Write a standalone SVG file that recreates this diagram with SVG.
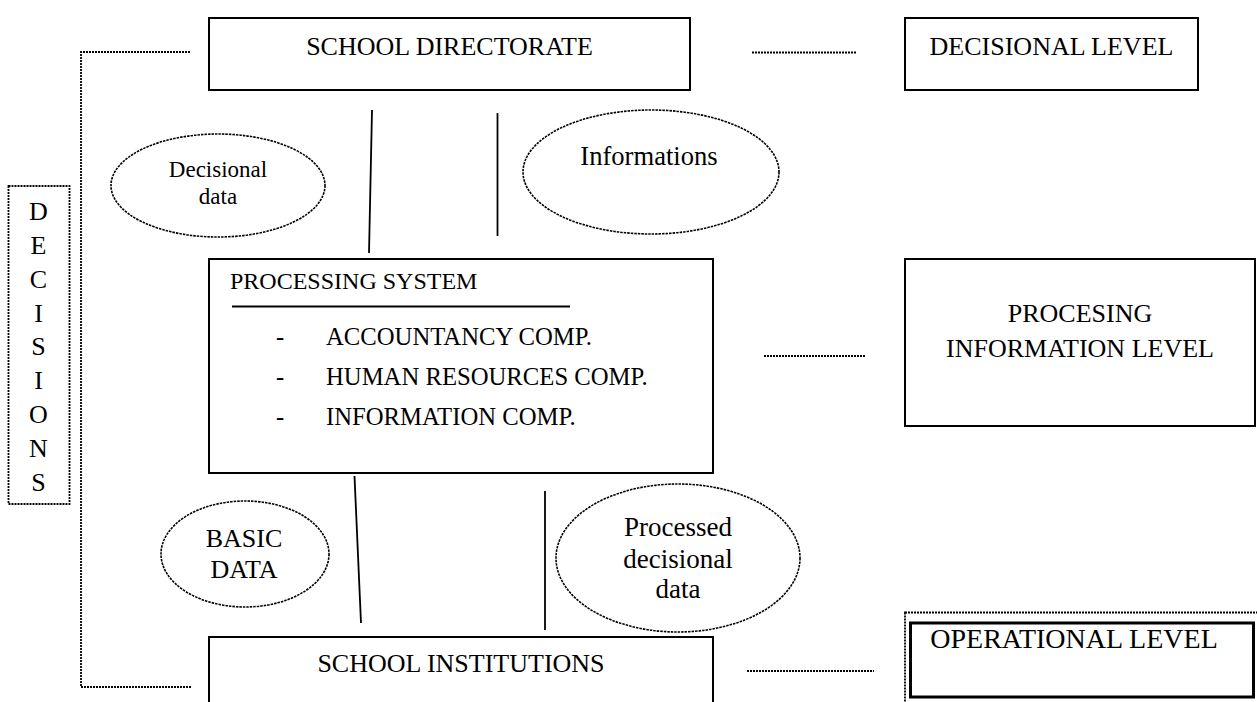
<svg xmlns="http://www.w3.org/2000/svg" width="1257" height="702" viewBox="0 0 1257 702">
  <style>
    text { font-family: "Liberation Serif", "Times New Roman", serif; fill: #000; }
    .box { fill: #fff; stroke: #000; stroke-width: 2; }
    .dot { fill: none; stroke: #000; stroke-width: 1.8; stroke-dasharray: 2 1; }
    .oval { fill: #fff; stroke: #000; stroke-width: 1.6; stroke-dasharray: 2.5 1; }
    .link { stroke: #000; stroke-width: 1.8; fill: none; }
    .lbl { font-size: 26px; text-anchor: middle; }
    .item { font-size: 24px; }
    .sub { font-size: 24.7px; }
  </style>
  <rect width="1257" height="702" fill="#fff"/>

  <!-- connectors -->
  <g id="connectors">
    <!-- decisions feedback bracket -->
    <polyline class="dot" points="190,52 81,52 81,687 192,687"/>
    <!-- flows between levels -->
    <line class="link" x1="372" y1="110" x2="369" y2="253"/>
    <line class="link" x1="497.5" y1="113" x2="497.5" y2="236"/>
    <line class="link" x1="354.5" y1="476" x2="361" y2="623"/>
    <line class="link" x1="545" y1="491" x2="545" y2="630"/>
    <!-- level guides -->
    <line class="dot" x1="752" y1="52.5" x2="857" y2="52.5"/>
    <line class="dot" x1="764" y1="356" x2="865" y2="356"/>
    <line class="dot" x1="747" y1="671" x2="874" y2="671"/>
  </g>

  <g id="school-directorate">
    <rect class="box" x="209" y="18" width="481" height="72"/>
    <text class="lbl" x="449.5" y="55" font-size="27">SCHOOL DIRECTORATE</text>
  </g>

  <g id="decisional-level">
    <rect class="box" x="905" y="18" width="293" height="72"/>
    <text class="lbl" x="1051.5" y="55">DECISIONAL LEVEL</text>
  </g>

  <g id="decisions">
    <rect class="dot" x="8.5" y="186" width="61" height="318"/>
    <text class="lbl" x="38.5" y="220">D</text>
    <text class="lbl" x="38.5" y="254">E</text>
    <text class="lbl" x="38.5" y="288">C</text>
    <text class="lbl" x="38.5" y="322">I</text>
    <text class="lbl" x="38.5" y="355">S</text>
    <text class="lbl" x="38.5" y="389">I</text>
    <text class="lbl" x="38.5" y="423">O</text>
    <text class="lbl" x="38.5" y="457">N</text>
    <text class="lbl" x="38.5" y="491">S</text>
  </g>

  <g id="decisional-data">
    <ellipse class="oval" cx="218" cy="185.5" rx="107" ry="51.5"/>
    <text x="218" y="177" font-size="23" text-anchor="middle">Decisional</text>
    <text x="218" y="204" font-size="23" text-anchor="middle">data</text>
  </g>

  <g id="informations">
    <ellipse class="oval" cx="651" cy="172" rx="128" ry="62"/>
    <text x="649" y="165" font-size="26.6" text-anchor="middle">Informations</text>
  </g>

  <g id="processing-system">
    <rect class="box" x="209" y="259" width="504" height="214"/>
    <text class="item" x="230" y="289">PROCESSING SYSTEM</text>
    <line class="link" x1="232" y1="306.5" x2="570" y2="306.5"/>
    <text class="sub" x="276" y="345">-</text>
    <text class="sub" x="326" y="345">ACCOUNTANCY COMP.</text>
    <text class="sub" x="276" y="385">-</text>
    <text class="sub" x="326" y="385">HUMAN RESOURCES COMP.</text>
    <text class="sub" x="276" y="425">-</text>
    <text class="sub" x="326" y="425">INFORMATION COMP.</text>
  </g>

  <g id="processing-information-level">
    <rect class="box" x="905" y="259" width="350" height="167"/>
    <text class="lbl" x="1080" y="322">PROCESING</text>
    <text class="lbl" x="1080" y="357">INFORMATION LEVEL</text>
  </g>

  <g id="basic-data">
    <ellipse class="oval" cx="245" cy="554" rx="84" ry="53"/>
    <text class="lbl" x="244" y="547" font-size="26.6">BASIC</text>
    <text class="lbl" x="244" y="578" font-size="26.6">DATA</text>
  </g>

  <g id="processed-decisional-data">
    <ellipse class="oval" cx="678" cy="558" rx="122" ry="74"/>
    <text x="678" y="536" font-size="27" text-anchor="middle">Processed</text>
    <text x="678" y="568" font-size="27" text-anchor="middle">decisional</text>
    <text x="678" y="598" font-size="27" text-anchor="middle">data</text>
  </g>

  <g id="school-institutions">
    <rect class="box" x="209" y="637" width="504" height="80"/>
    <text class="lbl" x="461" y="672" font-size="26.6">SCHOOL INSTITUTIONS</text>
  </g>

  <g id="operational-level">
    <rect class="dot" x="905" y="612.5" width="360" height="100"/>
    <rect x="910.5" y="623" width="343" height="74" fill="#fff" stroke="#000" stroke-width="3"/>
    <text x="1074" y="648" font-size="28" text-anchor="middle">OPERATIONAL LEVEL</text>
  </g>
</svg>
